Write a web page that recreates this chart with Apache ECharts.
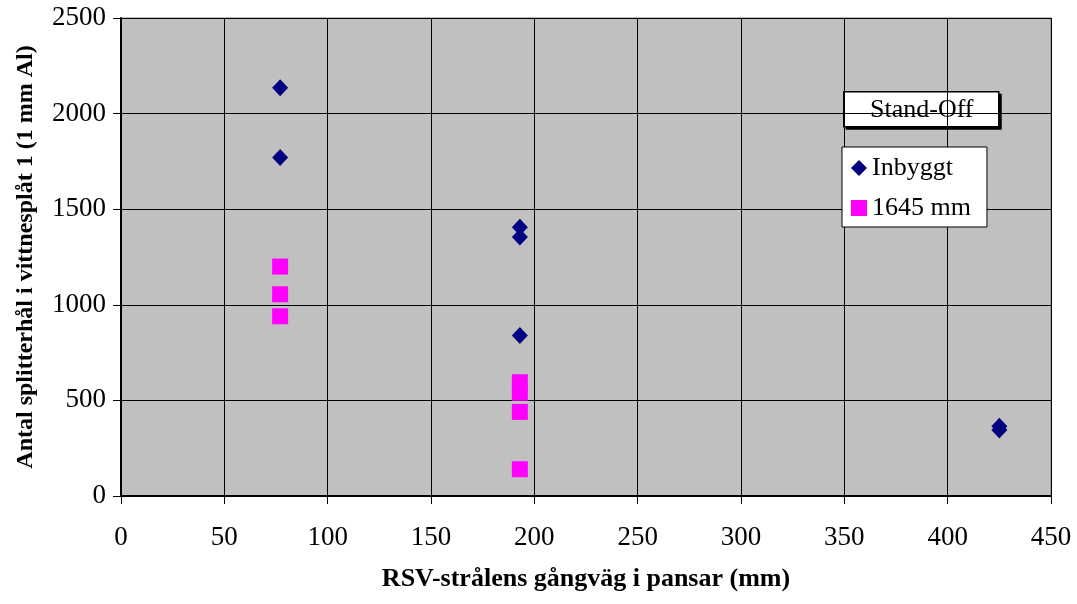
<!DOCTYPE html>
<html>
<head>
<meta charset="utf-8">
<script src="https://cdn.jsdelivr.net/npm/echarts@6/dist/echarts.min.js"></script>
<style>
  html, body { margin: 0; padding: 0; background: #fff; }
  #chart { width: 1077px; height: 604px; }
</style>
</head>
<body>
<div id="chart"></div>
<script>
// Fragment holes in witness plate 1 vs. jet path length in armour
const seriesNames = ['Inbyggt', '1645 mm'];
const inbyggt = [[77, 2135], [77, 1770], [193, 1405], [193, 1355], [193, 840], [425, 365], [425, 345]];
const standOff1645 = [[77, 1200], [77, 1055], [77, 940], [193, 595], [193, 540], [193, 440], [193, 140]];
const xTicks = [0, 50, 100, 150, 200, 250, 300, 350, 400, 450];
const yTicks = [0, 500, 1000, 1500, 2000, 2500];

const font = 'Liberation Serif, Times New Roman, serif';
const chart = echarts.init(document.getElementById('chart'), null, { renderer: 'canvas' });

chart.setOption({
  animation: false,
  backgroundColor: '#fff',
  grid: {
    left: 121, top: 18, right: 26, bottom: 108,
    show: true, backgroundColor: '#c0c0c0', borderColor: '#808080', borderWidth: 1
  },
  xAxis: {
    type: 'value',
    min: xTicks[0], max: xTicks[xTicks.length - 1], interval: 50,
    name: 'RSV-strålens gångväg i pansar (mm)',
    nameLocation: 'middle', nameGap: 70,
    nameTextStyle: { fontFamily: font, fontSize: 26, fontWeight: 'bold', color: '#000' },
    axisLine: { show: true, onZero: false, lineStyle: { color: '#000', width: 2 } },
    axisTick: { show: true, inside: false, length: 8, lineStyle: { color: '#000' } },
    axisLabel: { margin: 28, fontFamily: font, fontSize: 27, color: '#000', formatter: v => String(v) },
    splitLine: { show: true, lineStyle: { color: '#000', width: 1 } }
  },
  yAxis: {
    type: 'value',
    min: yTicks[0], max: yTicks[yTicks.length - 1], interval: 500,
    name: 'Antal splitterhål i vittnesplåt 1 (1 mm Al)',
    nameLocation: 'middle', nameGap: 83,
    nameTextStyle: { fontFamily: font, fontSize: 24, fontWeight: 'bold', color: '#000' },
    axisLine: { show: true, onZero: false, lineStyle: { color: '#000', width: 2 } },
    axisTick: { show: true, inside: false, length: 8, lineStyle: { color: '#000' } },
    axisLabel: { margin: 15, fontFamily: font, fontSize: 27, color: '#000', formatter: v => String(v) },
    splitLine: { show: true, lineStyle: { color: '#000', width: 1 } }
  },
  legend: {
    orient: 'vertical',
    left: 842, top: 147,
    data: seriesNames,
    backgroundColor: '#fff', borderColor: '#000', borderWidth: 1,
    padding: [8, 16, 6, 9],
    itemWidth: 16, itemHeight: 16, itemGap: 14,
    textStyle: { fontFamily: font, fontSize: 26, color: '#000', lineHeight: 26 }
  },
  graphic: [{
    type: 'group', left: 843, top: 91,
    children: [
      // drop shadow on the right and bottom edges of the label box
      { type: 'rect', shape: { x: 2, y: 2, width: 156, height: 36 },
        style: { fill: '#000' } },
      { type: 'rect', shape: { x: 0, y: 0, width: 155, height: 35 },
        style: { fill: '#fff', stroke: '#000', lineWidth: 1.5 } },
      { type: 'text', x: 78, y: 18,
        style: { text: 'Stand-Off', fill: '#000', font: '26px ' + font, align: 'center', verticalAlign: 'middle' } }
    ]
  }],
  series: [
    {
      name: seriesNames[0], type: 'scatter', data: inbyggt,
      symbol: 'diamond', symbolSize: [16, 17],
      itemStyle: { color: '#000080', opacity: 1 }
    },
    {
      name: seriesNames[1], type: 'scatter', data: standOff1645,
      symbol: 'rect', symbolSize: 16,
      itemStyle: { color: '#ff00ff', opacity: 1 }
    }
  ]
});
</script>
</body>
</html>
